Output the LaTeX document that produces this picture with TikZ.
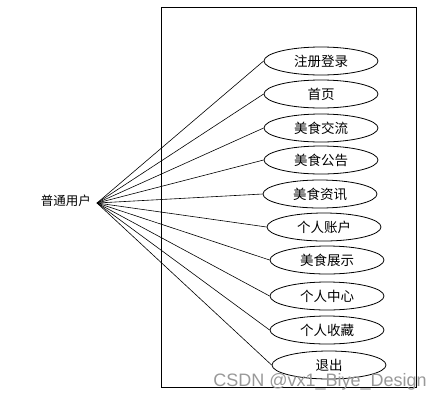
\documentclass[tikz,border=0pt]{standalone}
\usepackage{fontspec}
\setmainfont{Liberation Sans}
\newfontfamily\cjk{Noto Sans CJK SC}
\usetikzlibrary{shapes.geometric}
\begin{document}
\begin{tikzpicture}[x=1pt,y=-1pt,
  uc/.style={draw,ellipse,line width=0.8pt,minimum width=114pt,minimum height=28pt,inner sep=0pt,font=\cjk\fontsize{13.5}{15}\selectfont},
  link/.style={draw,line width=0.6pt}]
\useasboundingbox (0,0) rectangle (441,400);
\draw[line width=0.9pt] (161,7) rectangle (416,387);
\coordinate (actor) at (97,203);
\node[font=\cjk\fontsize{12.5}{14}\selectfont,anchor=east,inner sep=0pt] (lbl) at (91,201) {普通用户};
\node[uc] (u1) at (321,61) {注册登录};
\node[uc] (u2) at (321,94) {首页};
\node[uc] (u3) at (321,128) {美食交流};
\node[uc] (u4) at (321,160) {美食公告};
\node[uc] (u5) at (320,194) {美食资讯};
\node[uc] (u6) at (324,227) {个人账户};
\node[uc] (u7) at (327,260) {美食展示};
\node[uc] (u8) at (327,296) {个人中心};
\node[uc] (u9) at (327,330) {个人收藏};
\node[uc] (u10) at (329,365) {退出};
\foreach \i in {1,...,10} \draw[link] (actor) -- (u\i.west);
\node[font=\fontsize{18}{20}\selectfont,text=black!40,anchor=base east,inner sep=0pt] (wm) at (427,386) {CSDN @vx1\_Biye\_Design};
\end{tikzpicture}
\end{document}
